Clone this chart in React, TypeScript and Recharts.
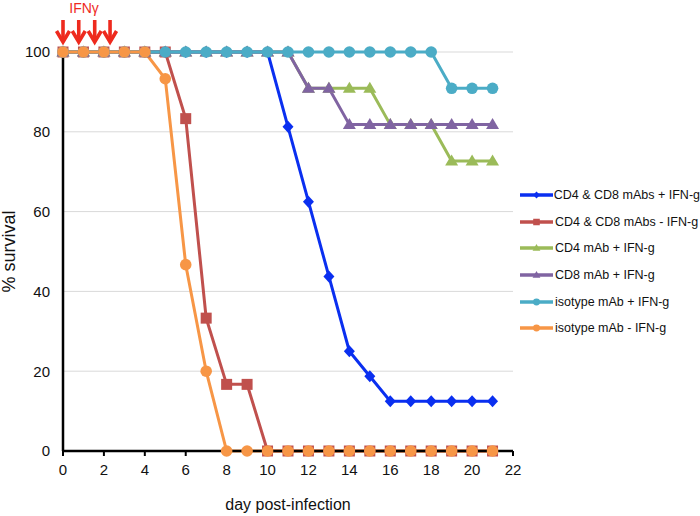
import React from "react";
import {
  LineChart,
  Line,
  XAxis,
  YAxis,
  CartesianGrid,
  Legend,
  ReferenceDot,
} from "recharts";

const days = [0, 1, 2, 3, 4, 5, 6, 7, 8, 9, 10, 11, 12, 13, 14, 15, 16, 17, 18, 19, 20, 21];

const cd4cd8PlusIfn = [100, 100, 100, 100, 100, 100, 100, 100, 100, 100, 100, 81.25, 62.5, 43.75, 25, 18.75, 12.5, 12.5, 12.5, 12.5, 12.5, 12.5];
const cd4cd8MinusIfn = [100, 100, 100, 100, 100, 100, 83.3, 33.3, 16.7, 16.7, 0, 0, 0, 0, 0, 0, 0, 0, 0, 0, 0, 0];
const cd4PlusIfn = [100, 100, 100, 100, 100, 100, 100, 100, 100, 100, 100, 100, 90.9, 90.9, 90.9, 90.9, 81.8, 81.8, 81.8, 72.7, 72.7, 72.7];
const cd8PlusIfn = [100, 100, 100, 100, 100, 100, 100, 100, 100, 100, 100, 100, 90.9, 90.9, 81.8, 81.8, 81.8, 81.8, 81.8, 81.8, 81.8, 81.8];
const isotypePlusIfn = [100, 100, 100, 100, 100, 100, 100, 100, 100, 100, 100, 100, 100, 100, 100, 100, 100, 100, 100, 90.9, 90.9, 90.9];
const isotypeMinusIfn = [100, 100, 100, 100, 100, 93.3, 46.7, 20, 0, 0, 0, 0, 0, 0, 0, 0, 0, 0, 0, 0, 0, 0];

const xTicks = [0, 2, 4, 6, 8, 10, 12, 14, 16, 18, 20, 22];
const yTicks = [0, 20, 40, 60, 80, 100];
const ifnDays = [0, 0.77, 1.55, 2.3];

const seriesDefs = [
  { key: "s1", name: "CD4 & CD8 mAbs + IFN-g", values: cd4cd8PlusIfn, color: "#0a2ff0", shape: "diamond" },
  { key: "s2", name: "CD4 & CD8 mAbs - IFN-g", values: cd4cd8MinusIfn, color: "#c0504d", shape: "square" },
  { key: "s3", name: "CD4 mAb + IFN-g", values: cd4PlusIfn, color: "#9bbb59", shape: "triangle" },
  { key: "s4", name: "CD8 mAb + IFN-g", values: cd8PlusIfn, color: "#8064a2", shape: "triangle" },
  { key: "s5", name: "isotype mAb + IFN-g", values: isotypePlusIfn, color: "#4bacc6", shape: "circle" },
  { key: "s6", name: "isotype mAb - IFN-g", values: isotypeMinusIfn, color: "#f79646", shape: "circle" },
];

const data = days.map((d, i) => {
  const row: any = { day: d };
  seriesDefs.forEach((s) => {
    row[s.key] = s.values[i];
  });
  return row;
});

const FONT = "Liberation Sans, Arial, sans-serif";

function markerPath(shape: string, cx: number, cy: number, scale: number) {
  const s = scale;
  switch (shape) {
    case "diamond":
      return `M${cx},${cy - 6 * s}L${cx + 5.5 * s},${cy}L${cx},${cy + 6 * s}L${cx - 5.5 * s},${cy}Z`;
    case "square":
      return `M${cx - 5.5 * s},${cy - 5.5 * s}h${11 * s}v${11 * s}h${-11 * s}Z`;
    case "triangle":
      return `M${cx},${cy - 6.5 * s}L${cx + 6.5 * s},${cy + 4.5 * s}L${cx - 6.5 * s},${cy + 4.5 * s}Z`;
    default:
      return "";
  }
}

function Marker({ shape, cx, cy, color, scale }: any) {
  if (shape === "circle") {
    return <circle cx={cx} cy={cy} r={5.8 * scale} fill={color} stroke="none" />;
  }
  return <path d={markerPath(shape, cx, cy, scale)} fill={color} stroke="none" />;
}

const makeDot = (shape: string, color: string) => (props: any) => {
  const { cx, cy, index } = props;
  if (cx == null || cy == null) return <g key={`d-${index}`} />;
  return (
    <g key={`d-${index}`}>
      <Marker shape={shape} cx={cx} cy={cy} color={color} scale={1} />
    </g>
  );
};

const ArrowShape = (props: any) => {
  const { cx, cy } = props;
  const red = "#ee2a1e";
  return (
    <g>
      <line x1={cx} y1={cy - 32} x2={cx} y2={cy - 11} stroke={red} strokeWidth={3.6} />
      <polyline
        points={`${cx - 6.5},${cy - 21} ${cx},${cy - 10} ${cx + 6.5},${cy - 21}`}
        fill="none"
        stroke={red}
        strokeWidth={3.6}
        strokeLinejoin="miter"
      />
    </g>
  );
};

const IfnLabelShape = (props: any) => {
  const { cx, cy } = props;
  return (
    <text x={cx} y={cy - 39} fill="#ee2a1e" fontSize={14} textAnchor="middle" fontFamily={FONT}>
      IFNγ
    </text>
  );
};

const renderLegend = () => (
  <div style={{ fontFamily: FONT, fontSize: 12.5, color: "#111" }}>
    {seriesDefs.map((s) => (
      <div key={s.key} style={{ display: "flex", alignItems: "center", height: 26.6 }}>
        <svg width={36} height={14} style={{ display: "block" }}>
          <line x1={1} y1={7} x2={34} y2={7} stroke={s.color} strokeWidth={3.5} />
          <Marker shape={s.shape} cx={17.5} cy={7} color={s.color} scale={0.6} />
        </svg>
        <span style={{ marginLeft: 0, whiteSpace: "nowrap" }}>{s.name}</span>
      </div>
    ))}
  </div>
);

const YTitle = (props: any) => {
  const vb = props.viewBox || { x: 0, y: 52, width: 63, height: 399 };
  const x = vb.x + 9;
  const y = vb.y + vb.height / 2;
  return (
    <text x={x} y={y} transform={`rotate(-90, ${x}, ${y})`} textAnchor="middle" dominantBaseline="central" fontSize={18} fill="#111" fontFamily={FONT}>
      % survival
    </text>
  );
};

const XTitle = (props: any) => {
  const vb = props.viewBox || { x: 63, y: 451, width: 450, height: 65 };
  const x = vb.x + vb.width / 2;
  const y = vb.y + 53;
  return (
    <text x={x} y={y} textAnchor="middle" dominantBaseline="central" fontSize={16} fill="#111" fontFamily={FONT}>
      day post-infection
    </text>
  );
};

export default function App() {
  return (
    <div style={{ position: "absolute", left: 0, top: 0, width: 700, height: 516, background: "#fff", fontFamily: FONT }}>
      <LineChart width={700} height={516} data={data} margin={{ top: 52, right: 187, left: 0, bottom: 0 }}>
        <CartesianGrid horizontal={true} vertical={false} stroke="#d9d9d9" strokeWidth={1} />
        <XAxis
          dataKey="day"
          type="number"
          domain={[0, 22]}
          ticks={xTicks}
          interval={0}
          height={65}
          axisLine={{ stroke: "#000", strokeWidth: 2.5 }}
          tickLine={{ stroke: "#000", strokeWidth: 2 }}
          tickSize={5}
          tickMargin={8}
          tick={{ fill: "#111", fontSize: 15, fontFamily: FONT }}
          label={<XTitle />}
        />
        <YAxis
          type="number"
          domain={[0, 100]}
          ticks={yTicks}
          interval={0}
          width={63}
          axisLine={{ stroke: "#000", strokeWidth: 2.5 }}
          tickLine={false}
          tickMargin={7}
          tick={{ fill: "#111", fontSize: 15, fontFamily: FONT }}
          label={<YTitle />}
        />
        <Legend
          layout="vertical"
          align="center"
          verticalAlign="middle"
          content={renderLegend}
          wrapperStyle={{ left: 519, top: 182, width: 181 }}
        />
        {seriesDefs.map((s) => (
          <Line
            key={s.key}
            dataKey={s.key}
            name={s.name}
            type="linear"
            stroke={s.color}
            strokeWidth={3}
            dot={makeDot(s.shape, s.color)}
            activeDot={false}
            isAnimationActive={false}
          />
        ))}
        {ifnDays.map((d) => (
          <ReferenceDot key={`arrow-${d}`} x={d} y={100} ifOverflow="visible" shape={ArrowShape} />
        ))}
        <ReferenceDot x={1.03} y={100} ifOverflow="visible" shape={IfnLabelShape} />
      </LineChart>
    </div>
  );
}
